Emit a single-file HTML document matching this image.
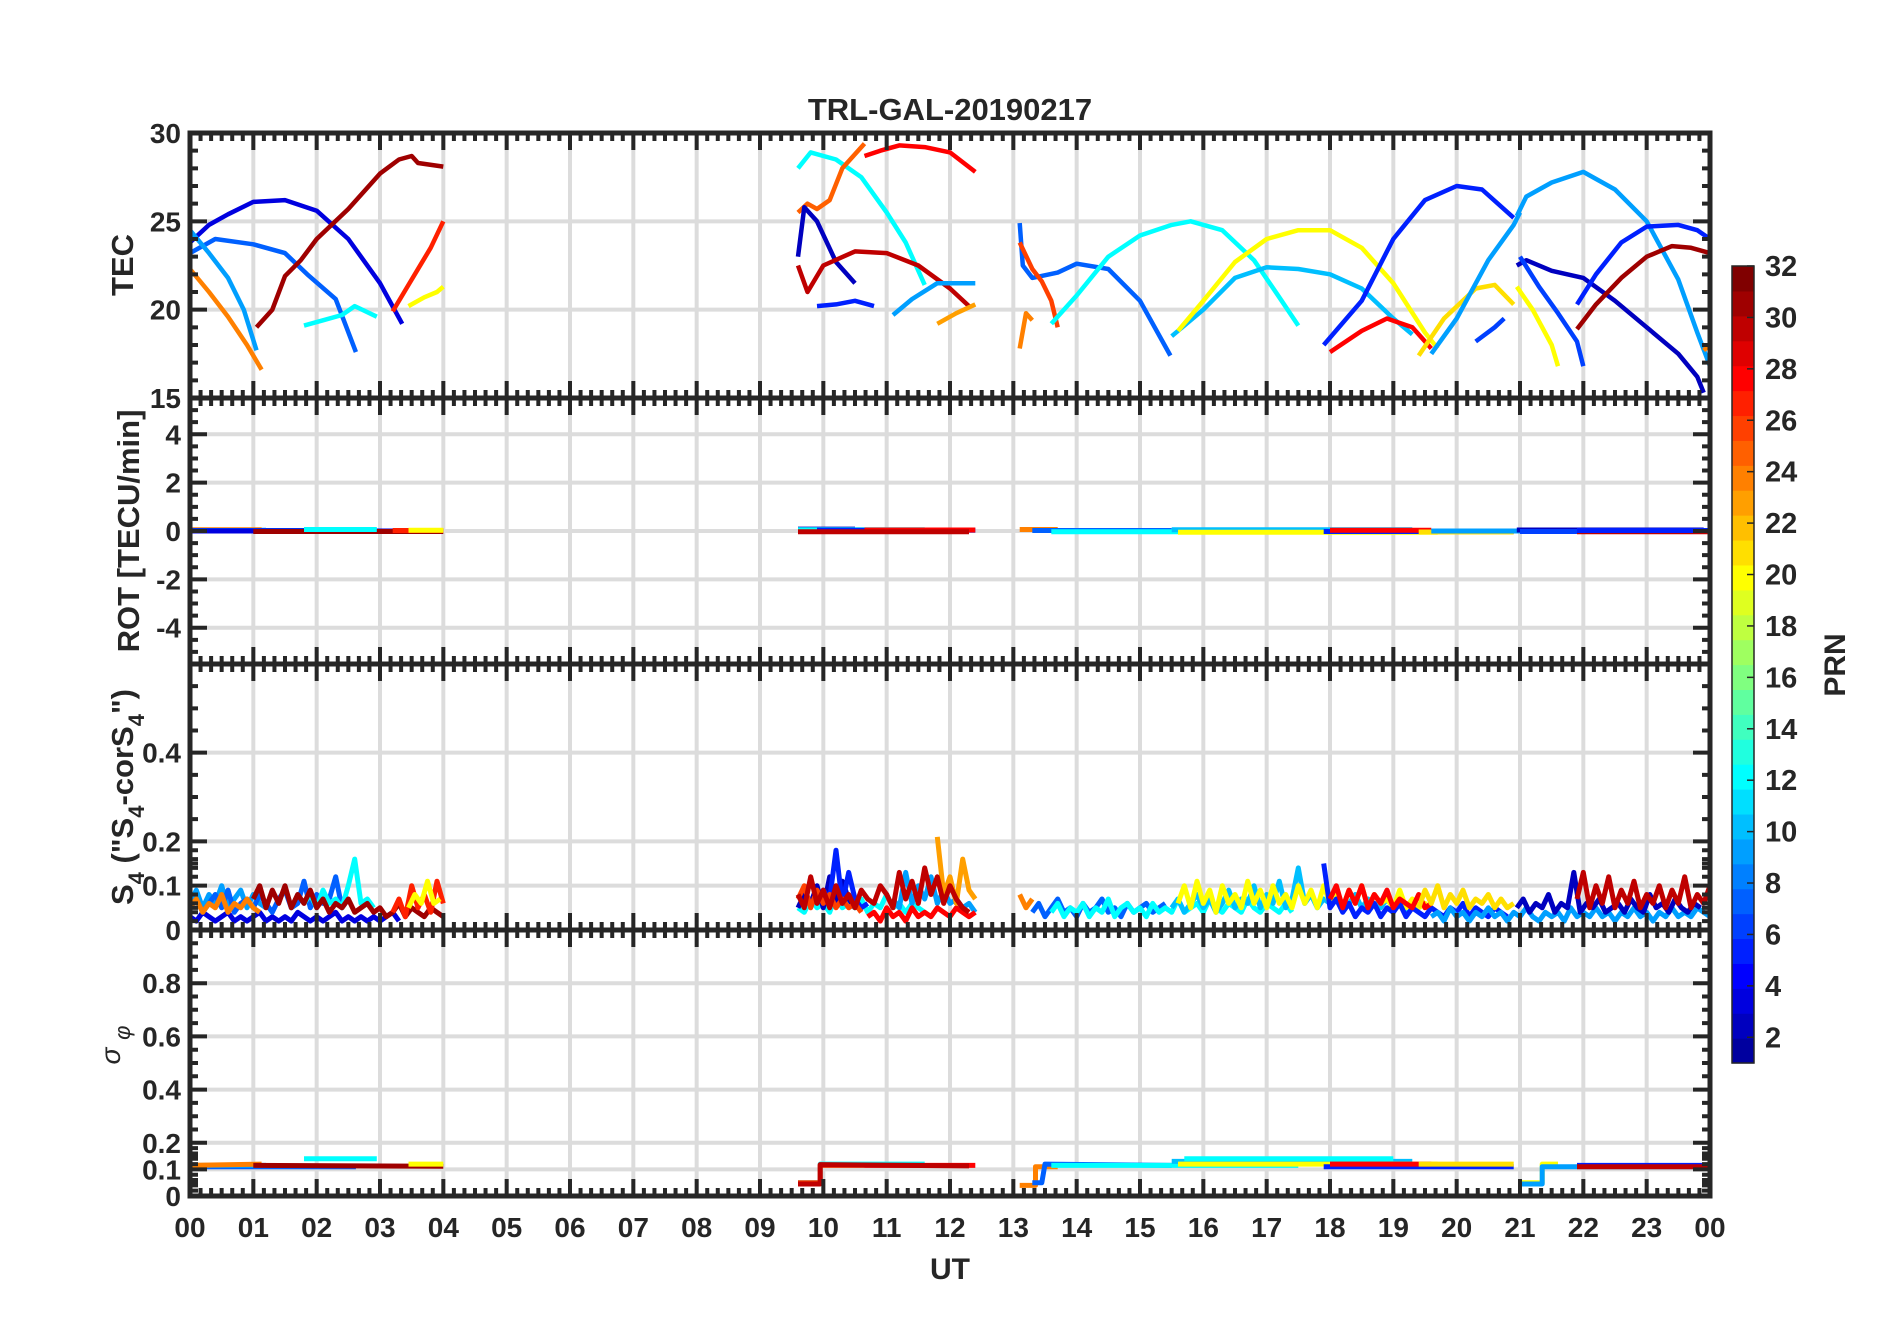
<!DOCTYPE html>
<html><head><meta charset="utf-8">
<style>
html,body{margin:0;padding:0;background:#fff;}
svg{display:block;font-family:"Liberation Sans",Arial,sans-serif;}
</style></head>
<body>
<svg id="chart" width="1902" height="1330" viewBox="0 0 1902 1330" xmlns="http://www.w3.org/2000/svg">
<rect width="1902" height="1330" fill="#fff"/>
<text x="950" y="120" text-anchor="middle" font-size="31" font-weight="bold" fill="#262626">TRL-GAL-20190217</text>
<g id="grid"></g>
<defs>
<clipPath id="c0"><rect x="190" y="133" width="1520" height="265"/></clipPath>
<clipPath id="c1"><rect x="190" y="398" width="1520" height="266"/></clipPath>
<clipPath id="c2"><rect x="190" y="664" width="1520" height="266"/></clipPath>
<clipPath id="c3"><rect x="190" y="930" width="1520" height="266"/></clipPath>
</defs>
<g id="data"></g>
<g id="axes"></g>
<text transform="translate(133,265) rotate(-90)" text-anchor="middle" font-size="31" font-weight="bold" fill="#262626">TEC</text>
<text transform="translate(139,531) rotate(-90)" text-anchor="middle" font-size="31" font-weight="bold" fill="#262626">ROT [TECU/min]</text>
<text transform="translate(133,797) rotate(-90)" text-anchor="middle" font-size="31" font-weight="bold" fill="#262626">S<tspan font-size="22" dy="11">4</tspan><tspan dy="-11"> ("S</tspan><tspan font-size="22" dy="11">4</tspan><tspan dy="-11">-corS</tspan><tspan font-size="22" dy="11">4</tspan><tspan dy="-11">")</tspan></text>
<text transform="translate(120,1045) rotate(-90)" text-anchor="middle" font-size="28" font-style="italic" fill="#262626">σ <tspan font-size="22" dy="10">φ</tspan></text>
<text x="950" y="1279" text-anchor="middle" font-size="30" font-weight="bold" fill="#262626">UT</text>
<g id="cbar"></g>
<text transform="translate(1845,665) rotate(-90)" text-anchor="middle" font-size="30" font-weight="bold" fill="#262626">PRN</text>
</svg>
<script>
// ---------- data ----------
const hourLabels = ["00","01","02","03","04","05","06","07","08","09","10","11","12","13","14","15","16","17","18","19","20","21","22","23","00"];
const tecTicks = [15,20,25,30];
const rotTicks = [-4,-2,0,2,4];
const s4Ticks = [0,0.1,0.2,0.4];
const sigTicks = [0,0.1,0.2,0.4,0.6,0.8];
const cbarTicks = [2,4,6,8,10,12,14,16,18,20,22,24,26,28,30,32];

const tecPrn = [3,7,9,24,31,12,27,20, 12,25,28,2,30,5,9,23, 7,26,24,12,10,20,5,28,21,9,6,9,2,6,20,5,31,24];
const tecT = [
 [0,0.3,0.6,1.0,1.5,2.0,2.5,3.0,3.35],
 [0,0.4,1.0,1.5,1.85,2.3,2.62],
 [0,0.3,0.6,0.85,1.05],
 [0,0.3,0.6,0.9,1.13],
 [1.05,1.3,1.5,1.75,2.0,2.5,3.0,3.3,3.5,3.6,4.0],
 [1.8,2.1,2.4,2.6,2.95],
 [3.2,3.45,3.65,3.8,4.0],
 [3.45,3.7,3.9,4.0],
 [9.6,9.8,10.2,10.6,11.0,11.3,11.6],
 [9.6,9.75,9.9,10.1,10.3,10.65],
 [10.65,10.9,11.2,11.6,12.0,12.4],
 [9.6,9.7,9.9,10.2,10.5],
 [9.6,9.75,10.0,10.5,11.0,11.5,12.0,12.3],
 [9.9,10.2,10.5,10.8],
 [11.1,11.4,11.8,12.4],
 [11.8,12.1,12.4],
 [13.1,13.15,13.3,13.7,14.0,14.5,15.0,15.48],
 [13.1,13.3,13.45,13.6,13.7],
 [13.1,13.2,13.3],
 [13.6,14.0,14.5,15.0,15.5,15.8,16.3,16.8,17.2,17.5],
 [15.5,16.0,16.5,17.0,17.5,18.0,18.5,19.0,19.3],
 [15.6,16.0,16.5,17.0,17.5,18.0,18.5,19.0,19.5,19.7],
 [17.9,18.5,19.0,19.5,20.0,20.4,20.9],
 [18.0,18.5,18.9,19.3,19.6],
 [19.4,19.8,20.3,20.6,20.9],
 [19.6,20.0,20.5,20.9,21.0],
 [20.3,20.6,20.75],
 [20.95,21.1,21.5,22.0,22.5,23.0,23.5,23.8,24.0],
 [20.95,21.1,21.5,22.0,22.5,23.0,23.5,23.8,23.9],
 [21.0,21.3,21.6,21.9,22.0],
 [20.95,21.2,21.5,21.6],
 [21.9,22.2,22.6,23.0,23.5,23.8,24.0],
 [21.9,22.2,22.6,23.0,23.4,23.7,24.0],
 [23.9,24.0]
];
const tecV = [
 [23.8,24.8,25.4,26.1,26.2,25.6,24.0,21.5,19.2],
 [23.2,24.0,23.7,23.2,22.0,20.6,17.6],
 [24.5,23.2,21.8,20.0,17.7],
 [22.3,21.0,19.6,18.0,16.6],
 [19.0,20.0,21.9,22.8,24.0,25.7,27.7,28.5,28.7,28.3,28.1],
 [19.1,19.4,19.7,20.2,19.6],
 [19.9,21.4,22.6,23.5,25.0],
 [20.2,20.7,21.0,21.3],
 [28.0,28.9,28.5,27.5,25.5,23.8,21.4],
 [25.5,26.0,25.7,26.2,28.0,29.4],
 [28.7,29.0,29.3,29.2,28.9,27.8],
 [23.0,25.8,25.0,22.7,21.5],
 [22.5,21.0,22.5,23.3,23.2,22.5,21.2,20.2],
 [20.2,20.3,20.5,20.2],
 [19.7,20.6,21.5,21.5],
 [19.2,19.8,20.3],
 [24.9,22.5,21.8,22.1,22.6,22.3,20.5,17.4],
 [23.8,22.3,21.6,20.5,19.0],
 [17.8,19.8,19.4],
 [19.2,20.8,23.0,24.2,24.8,25.0,24.5,22.8,20.7,19.1],
 [18.5,20.0,21.8,22.4,22.3,22.0,21.2,19.5,18.6],
 [18.8,20.5,22.7,24.0,24.5,24.5,23.5,21.5,18.7,17.8],
 [18.0,20.5,24.0,26.2,27.0,26.8,25.2],
 [17.6,18.8,19.5,19.0,17.8],
 [17.4,19.5,21.2,21.4,20.3],
 [17.5,19.5,22.8,24.8,25.5],
 [18.2,19.0,19.5],
 [25.3,26.4,27.2,27.8,26.8,25.0,21.7,18.7,16.8],
 [22.5,22.8,22.2,21.8,20.5,19.0,17.5,16.2,15.3],
 [23.0,21.3,19.8,18.2,16.8],
 [21.3,20.0,18.0,16.8],
 [20.3,22.0,23.8,24.7,24.8,24.5,24.0],
 [18.9,20.3,21.8,23.0,23.6,23.5,23.2],
 [17.7,18.0]
];

const rotPrn = [9,24,7,3,31,12,27,20, 2,12,5,28,30, 24,7,12,10,20,5,28,21,9,2,6,30,5];
const rotT0  = [0,0,0,0,1.0,1.8,3.2,3.45, 9.6,9.6,9.9,10.65,9.6, 13.1,13.3,13.6,15.5,15.6,17.9,18.0,19.4,19.6,20.95,21.0,21.9,21.9];
const rotT1  = [1.2,1.13,2.62,3.35,4.0,2.95,4.0,4.0, 10.5,11.6,12.4,12.4,12.3, 13.7,15.5,17.5,19.3,19.7,20.9,19.6,20.9,24.0,23.9,22.0,24.0,24.0];
const rotV   = [0.03,0.05,0.02,0.0,-0.02,0.06,0.02,0.03, 0.08,0.05,0.03,0.04,-0.03, 0.06,0.02,-0.03,0.05,-0.05,-0.02,0.03,-0.04,0.0,0.04,-0.02,-0.03,0.02];

const s4Prn = [3,9,7,24,12,31,27,20, 12,2,5,26,9,28,23,30, 24,7,12,10,20,5,28,21,9,2,30];
const s4T0  = [0,0,0,0,1.8,1.0,3.2,3.45, 9.6,9.6,9.9,9.6,11.1,10.7,11.8,9.6, 13.1,13.3,13.6,15.5,15.6,17.9,18.0,19.4,19.6,20.95,21.9];
const s4V = [
 [0.03,0.02,0.04,0.03,0.02,0.03,0.04,0.02,0.03,0.02,0.03,0.04,0.02,0.03,0.02,0.03,0.02,0.04,0.03,0.02,0.03,0.02,0.03,0.04,0.02,0.03,0.02,0.03,0.02,0.03,0.02,0.03,0.04,0.02],
 [0.06,0.09,0.05,0.08,0.06,0.1,0.05,0.07,0.09,0.05,0.08,0.06,0.05],
 [0.05,0.07,0.04,0.06,0.08,0.05,0.09,0.04,0.06,0.07,0.05,0.08,0.06,0.04,0.07,0.09,0.05,0.06,0.11,0.05,0.08,0.06,0.07,0.12,0.05,0.07],
 [0.05,0.07,0.04,0.06,0.05,0.08,0.04,0.06,0.05,0.07,0.05,0.04],
 [0.06,0.08,0.05,0.09,0.06,0.07,0.05,0.1,0.16,0.06,0.07,0.05],
 [0.07,0.1,0.05,0.09,0.06,0.1,0.05,0.08,0.06,0.09,0.05,0.07,0.04,0.06,0.05,0.07,0.04,0.05,0.06,0.04,0.05,0.03,0.04,0.06,0.03,0.05,0.04,0.03,0.05,0.04,0.03],
 [0.04,0.07,0.03,0.1,0.05,0.08,0.04,0.11,0.06],
 [0.05,0.08,0.06,0.11,0.06,0.07],
 [0.05,0.04,0.07,0.05,0.06,0.04,0.08,0.05,0.06,0.05,0.07,0.04,0.06,0.05,0.08,0.05,0.06,0.04,0.06,0.05,0.04],
 [0.05,0.08,0.06,0.1,0.05,0.12,0.06,0.11,0.07,0.05],
 [0.06,0.09,0.07,0.18,0.06,0.13,0.07,0.05,0.06],
 [0.07,0.1,0.05,0.09,0.06,0.08,0.05,0.07,0.05,0.06,0.04],
 [0.07,0.05,0.13,0.06,0.1,0.07,0.12,0.06,0.09,0.06,0.07,0.05,0.06,0.04],
 [0.03,0.04,0.02,0.05,0.03,0.04,0.02,0.05,0.03,0.04,0.03,0.05,0.04,0.03,0.05,0.04,0.03,0.04],
 [0.21,0.08,0.12,0.06,0.16,0.09,0.07],
 [0.08,0.05,0.12,0.06,0.09,0.05,0.1,0.06,0.08,0.05,0.09,0.07,0.06,0.1,0.08,0.05,0.13,0.07,0.11,0.06,0.14,0.08,0.12,0.06,0.1,0.07,0.05,0.04],
 [0.08,0.05,0.07],
 [0.04,0.06,0.03,0.05,0.07,0.04,0.05,0.03,0.06,0.04,0.05,0.07,0.04,0.05,0.03,0.06,0.04,0.05,0.06,0.04,0.05,0.06],
 [0.04,0.06,0.03,0.05,0.04,0.06,0.03,0.05,0.04,0.07,0.03,0.05,0.06,0.04,0.05,0.03,0.06,0.04,0.05,0.04,0.07,0.04,0.05,0.06,0.04,0.07,0.05,0.04,0.06,0.05,0.04,0.07,0.05,0.04,0.06,0.05,0.04,0.06,0.04],
 [0.05,0.07,0.04,0.06,0.08,0.05,0.07,0.04,0.06,0.09,0.05,0.07,0.06,0.1,0.05,0.08,0.06,0.11,0.05,0.07,0.14,0.06,0.08,0.05,0.07,0.06,0.09,0.05,0.06,0.08,0.05,0.07,0.06,0.05,0.07,0.05,0.06,0.04],
 [0.06,0.1,0.05,0.11,0.06,0.09,0.04,0.1,0.06,0.08,0.05,0.11,0.06,0.09,0.05,0.1,0.06,0.08,0.05,0.1,0.06,0.09,0.05,0.1,0.06,0.08,0.05,0.09,0.06,0.1,0.05,0.08,0.06,0.07,0.05,0.09,0.05,0.07,0.05,0.06,0.04],
 [0.15,0.05,0.07,0.04,0.06,0.03,0.05,0.04,0.06,0.03,0.05,0.04,0.06,0.03,0.05,0.04,0.03,0.05,0.04,0.03,0.05,0.04,0.06,0.03,0.05,0.04,0.03,0.05,0.04,0.03],
 [0.07,0.1,0.05,0.09,0.06,0.1,0.05,0.08,0.06,0.09,0.05,0.07,0.06,0.05,0.08,0.05,0.06],
 [0.05,0.09,0.06,0.1,0.05,0.08,0.06,0.09,0.05,0.07,0.06,0.08,0.05,0.07,0.05,0.06],
 [0.03,0.04,0.02,0.05,0.03,0.04,0.02,0.04,0.03,0.05,0.03,0.04,0.02,0.04,0.03,0.05,0.03,0.02,0.04,0.03,0.04,0.02,0.05,0.03,0.04,0.03,0.05,0.03,0.04,0.02,0.04,0.03,0.05,0.03,0.04,0.02,0.04,0.03,0.05,0.03,0.04,0.03,0.05,0.04,0.03],
 [0.05,0.07,0.04,0.06,0.05,0.08,0.04,0.06,0.05,0.13,0.04,0.06,0.05,0.07,0.04,0.05,0.06,0.04,0.07,0.05,0.04,0.08,0.05,0.06,0.04,0.07,0.05,0.04,0.06,0.05],
 [0.07,0.13,0.05,0.1,0.06,0.12,0.05,0.09,0.06,0.11,0.05,0.08,0.06,0.1,0.05,0.09,0.06,0.12,0.05,0.08,0.06,0.1,0.05]
];

const sigPrn = [7,9,24,31,12,20, 12,26,28,30, 24,7,12,10,20,12,5,28,21,20,9,5,30];
const sigT = [
 [0,2.62],[0,1.2],[0,1.13],[1.0,4.0],[1.8,2.95],[3.45,4.0],
 [9.6,9.95,9.95,11.6],[9.6,9.95,9.95,10.65],[10.65,12.4],[9.6,9.95,9.95,12.3],
 [13.1,13.35,13.35,13.7],[13.3,13.45,13.5,15.5],[13.6,17.5],[15.5,19.3],[15.6,19.7],[15.7,19.0],[17.9,20.9],[18.0,19.6],[19.4,20.9],
 [21.0,21.35,21.35,21.6],[21.0,21.35,21.35,24.0],[21.9,24.0],[21.9,24.0]
];
const sigV = [
 [0.11,0.11],[0.115,0.115],[0.115,0.12],[0.115,0.112],[0.14,0.14],[0.12,0.12],
 [0.05,0.05,0.12,0.12],[0.05,0.05,0.115,0.115],[0.115,0.115],[0.045,0.045,0.118,0.113],
 [0.04,0.04,0.11,0.11],[0.05,0.05,0.12,0.115],[0.115,0.115],[0.13,0.13],[0.12,0.12],[0.14,0.14],[0.11,0.11],[0.12,0.12],[0.12,0.12],
 [0.05,0.05,0.12,0.12],[0.045,0.045,0.11,0.11],[0.115,0.115],[0.11,0.11]
];

// ---------- helpers ----------
const NS = "http://www.w3.org/2000/svg";
const X0 = 190, X1 = 1710;
const panels = [
 {top:133, bot:398, min:15, max:30},
 {top:398, bot:664, min:-5.5, max:5.5},
 {top:664, bot:930, min:0, max:0.6},
 {top:930, bot:1196, min:0, max:1}
];
function xs(h){ return X0 + h*(X1-X0)/24; }
function ys(p, v){ const P = panels[p]; return P.bot - (v-P.min)/(P.max-P.min)*(P.bot-P.top); }
function jet(prn){
  const v = prn/32;
  const c = t => Math.round(255*Math.max(0, Math.min(1, t)));
  return `rgb(${c(1.5-Math.abs(4*v-3))},${c(1.5-Math.abs(4*v-2))},${c(1.5-Math.abs(4*v-1))})`;
}
function mk(tag, attrs, parent){
  const e = document.createElementNS(NS, tag);
  for (const k in attrs) e.setAttribute(k, attrs[k]);
  parent.appendChild(e);
  return e;
}
const grid = document.getElementById('grid');
const data = document.getElementById('data');
const axes = document.getElementById('axes');
const GRID = "#dcdcdc", INK = "#262626";
const panelTicks = [tecTicks, rotTicks, s4Ticks, sigTicks];
const minorStep = [1, 0.5, 0.05, 0.05];
const panelNames = ['tec','rot','s4','sigma-phi'];

panels.forEach((P, p) => {
  for (let h = 1; h < 24; h++) {
    const l = mk('line', {x1:xs(h), x2:xs(h), y1:P.top, y2:P.bot, stroke:GRID, 'stroke-width':4}, grid);
    
    
  }
  panelTicks[p].forEach(v => {
    const l = mk('line', {x1:X0, x2:X1, y1:ys(p,v), y2:ys(p,v), stroke:GRID, 'stroke-width':4}, grid);
    
    
  });
});

function poly(p, ts, vs, prn, w, name){
  const pts = ts.map((t,i) => xs(t).toFixed(1)+','+ys(p,vs[i]).toFixed(1)).join(' ');
  const e = mk('polyline', {points:pts, fill:'none', stroke:jet(prn), 'stroke-width':w, 'stroke-linejoin':'round', 'clip-path':`url(#c${p})`}, data);
  
  
}
tecT.forEach((ts, i) => poly(0, ts, tecV[i], tecPrn[i], 4.5, 'tec-arc-prn'+tecPrn[i]));
rotPrn.forEach((prn, i) => poly(1, [rotT0[i], rotT1[i]], [rotV[i], rotV[i]], prn, 5, 'rot-trace-prn'+prn));
s4V.forEach((vals, i) => {
  const ts = vals.map((v, k) => s4T0[i] + k*0.1);
  poly(2, ts, vals, s4Prn[i], 5, 's4-trace-prn'+s4Prn[i]);
});
sigT.forEach((ts, i) => poly(3, ts, sigV[i], sigPrn[i], 5, 'sigma-trace-prn'+sigPrn[i]));

panels.forEach((P, p) => {
  const box = mk('rect', {x:X0, y:P.top, width:X1-X0, height:P.bot-P.top, fill:'none', stroke:INK, 'stroke-width':5}, axes);
  
  
  let d = '';
  for (let m = 0; m <= 144; m++) {
    const x = xs(m/6);
    const L = (m % 6 === 0) ? 17 : 8;
    d += `M${x},${P.top}v${L}M${x},${P.bot}v${-L}`;
  }
  const st = minorStep[p];
  const n = Math.round((P.max-P.min)/st);
  for (let k = 0; k <= n; k++) {
    const v = P.min + k*st;
    const y = ys(p, v);
    const major = panelTicks[p].some(t => Math.abs(t-v) < 1e-6);
    const L = major ? 17 : 8;
    d += `M${X0},${y}h${L}M${X1},${y}h${-L}`;
  }
  if (p >= 2) {
    [0.02,0.04,0.06,0.08,0.12,0.14,0.16,0.18].forEach(v => {
      const y = ys(p, v);
      d += `M${X0},${y}h8M${X1},${y}h-8`;
    });
  }
  const tk = mk('path', {d:d, stroke:INK, 'stroke-width':4, fill:'none'}, axes);
  
  
  panelTicks[p].forEach(v => {
    const t = mk('text', {x:181, y:ys(p,v)+10, 'text-anchor':'end', 'font-size':28, 'font-weight':'bold', fill:INK}, axes);
    t.textContent = String(v);
    
    
  });
});
hourLabels.forEach((lab, h) => {
  const t = mk('text', {x:xs(h), y:1237, 'text-anchor':'middle', 'font-size':28, 'font-weight':'bold', fill:INK}, axes);
  t.textContent = lab;
  
  
});

const cb = document.getElementById('cbar');
const CBX = 1732, CBW = 22, CBT = 266, CBB = 1063;
function cy(v){ return CBB - (v-1)/31*(CBB-CBT); }
const segH = (CBB-CBT)/32;
for (let i = 0; i < 32; i++) {
  const r = mk('rect', {x:CBX, y:CBB-(i+1)*segH, width:CBW, height:segH+0.6, fill:jet(i+1)}, cb);
  
  
}
const cbo = mk('rect', {x:CBX, y:CBT, width:CBW, height:CBB-CBT, fill:'none', stroke:INK, 'stroke-width':1.5}, cb);


cbarTicks.forEach(v => {
  const y = cy(v);
  const l = mk('line', {x1:CBX+CBW-7, x2:CBX+CBW, y1:y, y2:y, stroke:INK, 'stroke-width':1.5}, cb);
  
  
  const t = mk('text', {x:1765, y:y+10, 'font-size':29, 'font-weight':'bold', fill:INK}, cb);
  t.textContent = String(v);
  
  
});
</script>
</body></html>
